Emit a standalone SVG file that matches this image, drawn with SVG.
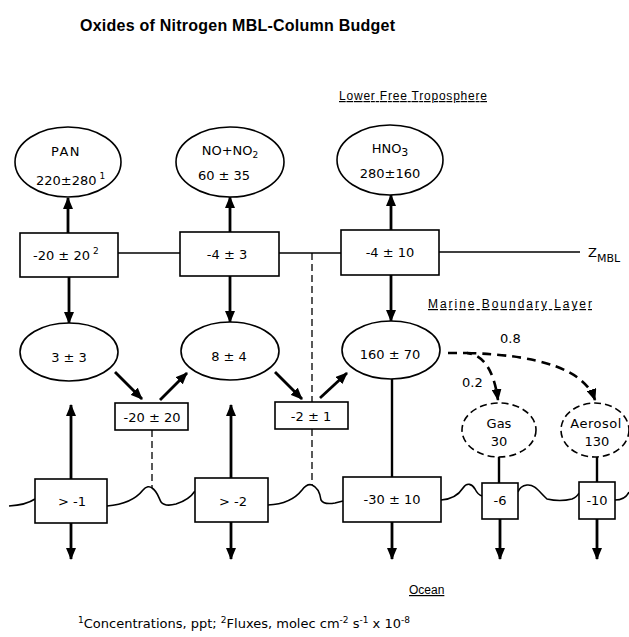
<svg xmlns="http://www.w3.org/2000/svg" width="629" height="637" viewBox="0 0 629 637">
  <style>
    text { font-family: "DejaVu Sans", "Liberation Sans", sans-serif; font-size: 13px; fill: #000; }
    .title { font-family: "Liberation Sans", sans-serif; font-weight: bold; font-size: 16px; }
    .lbl { font-family: "Liberation Sans", sans-serif; font-size: 12px; text-decoration: underline; }
    .sup { font-size: 9px; }
    .node { fill: #fff; stroke: #000; stroke-width: 1.6; }
    .dnode { fill: #fff; stroke: #000; stroke-width: 1.6; stroke-dasharray: 7 4; }
    .arrow { fill: none; stroke: #000; stroke-width: 2.8; marker-end: url(#ah); }
    .plain { fill: none; stroke: #000; stroke-width: 2.4; }
    .thin { fill: none; stroke: #000; stroke-width: 1.6; }
    .dash { fill: none; stroke: #000; stroke-width: 1.3; stroke-dasharray: 7 4; }
    .darrow { fill: none; stroke: #000; stroke-width: 2.6; stroke-dasharray: 9 6; marker-end: url(#ah); }
    .c { text-anchor: middle; }
  </style>
  <defs>
    <marker id="ah" markerUnits="userSpaceOnUse" markerWidth="12" markerHeight="10" refX="11" refY="5" orient="auto">
      <path d="M0,0 L12,5 L0,10 z" fill="#000"/>
    </marker>
  </defs>

  <rect width="629" height="637" fill="#fff"/>

  <!-- headings and layer labels -->
  <text class="title" x="80" y="31" textLength="315" lengthAdjust="spacing">Oxides of Nitrogen MBL-Column Budget</text>
  <text class="lbl" x="339" y="100" textLength="148" lengthAdjust="spacing">Lower Free Troposphere</text>
  <text class="lbl" x="428" y="308" textLength="164" lengthAdjust="spacing">Marine Boundary Layer</text>
  <text class="lbl" x="409" y="594">Ocean</text>
  <text x="588" y="257" font-size="14">Z<tspan dy="5" font-size="11">MBL</tspan></text>

  <!-- connectors -->
  <g id="connectors">
    <!-- MBL top boundary line -->
    <line class="thin" x1="118" y1="253" x2="180" y2="253"/>
    <line class="thin" x1="279" y1="253" x2="341" y2="253"/>
    <line class="thin" x1="439" y1="252" x2="580" y2="252"/>
    <!-- exchange with free troposphere -->
    <line class="arrow" x1="68" y1="233" x2="68" y2="198"/>
    <line class="arrow" x1="230" y1="232" x2="230" y2="197"/>
    <line class="arrow" x1="391" y1="230" x2="391" y2="195"/>
    <line class="arrow" x1="69" y1="277" x2="69" y2="323"/>
    <line class="arrow" x1="230" y1="276" x2="230" y2="322"/>
    <line class="arrow" x1="391" y1="275" x2="391" y2="321"/>
    <!-- chemical conversion -->
    <line class="arrow" x1="115" y1="372" x2="142" y2="399"/>
    <line class="arrow" x1="160" y1="400" x2="187" y2="373"/>
    <line class="arrow" x1="275" y1="372" x2="302" y2="399"/>
    <line class="arrow" x1="320" y1="398" x2="347" y2="373"/>
    <!-- surface sources -->
    <line class="arrow" x1="71" y1="479" x2="71" y2="405"/>
    <line class="arrow" x1="231" y1="478" x2="231" y2="405"/>
    <line class="plain" x1="392" y1="379" x2="392" y2="477"/>
    <line class="plain" x1="499" y1="457" x2="499" y2="483"/>
    <line class="plain" x1="597" y1="457" x2="597" y2="482"/>
    <!-- deposition to ocean -->
    <line class="arrow" x1="71" y1="523" x2="71" y2="559"/>
    <line class="arrow" x1="231" y1="522" x2="231" y2="559"/>
    <line class="arrow" x1="392" y1="522" x2="392" y2="559"/>
    <line class="arrow" x1="500" y1="519" x2="500" y2="559"/>
    <line class="arrow" x1="597" y1="519" x2="597" y2="559"/>
    <!-- dashed column ties -->
    <line class="dash" x1="312" y1="253" x2="312" y2="485"/>
    <line class="dash" x1="152" y1="430" x2="152" y2="488"/>
    <!-- partitioning of HNO3 -->
    <path class="darrow" d="M448,353 L467,353 Q492,356 498,400"/>
    <path class="darrow" d="M467,353 Q580,356 595,400"/>
    <!-- sea surface -->
    <path class="thin" d="M9,506 Q26,505 35,499"/>
    <path class="thin" d="M107,506 Q132,504 143,490 C146,486 150,486 152,488 C157,491 158,496 161,502 Q165,507 176,504 Q189,500 195,491"/>
    <path class="thin" d="M268,505 Q291,504 302,490 C305,486 309,484 312,485 C317,487 320,493 321,500 Q324,505 335,503 L343,501"/>
    <path class="thin" d="M441,500 Q456,499 463,488 C467,482 472,484 475,489 Q478,495 482,496"/>
    <path class="thin" d="M518,492 Q520,486 527,485 C535,484 540,493 547,499 Q560,502 572,499 Q577,497 579,493"/>
    <path class="thin" d="M615,500 Q625,500 629,492"/>
  </g>

  <!-- free troposphere reservoirs -->
  <g id="pan-ft">
    <ellipse class="node" cx="68" cy="162" rx="53" ry="35"/>
    <text class="c" x="66" y="156" letter-spacing="1.5">PAN</text>
    <text x="36" y="185">220±280<tspan class="sup" dx="3" dy="-6">1</tspan></text>
  </g>
  <g id="nox-ft">
    <ellipse class="node" cx="230" cy="162" rx="54" ry="35"/>
    <text class="c" x="230" y="155">NO+NO<tspan class="sup" font-size="11" dy="3">2</tspan></text>
    <text class="c" x="224" y="180">60 ± 35</text>
  </g>
  <g id="hno3-ft">
    <ellipse class="node" cx="390" cy="160" rx="53" ry="35"/>
    <text class="c" x="390" y="153">HNO<tspan font-size="11" dy="3">3</tspan></text>
    <text class="c" x="390" y="178">280±160</text>
  </g>

  <!-- entrainment fluxes at z_MBL -->
  <g id="pan-flux">
    <rect class="node" x="20" y="233" width="98" height="44"/>
    <text x="33" y="260">-20 ± 20<tspan class="sup" font-size="10" dx="3" dy="-6">2</tspan></text>
  </g>
  <g id="nox-flux">
    <rect class="node" x="180" y="232" width="99" height="44"/>
    <text class="c" x="227" y="259">-4 ± 3</text>
  </g>
  <g id="hno3-flux">
    <rect class="node" x="341" y="230" width="98" height="45"/>
    <text class="c" x="390" y="257">-4 ± 10</text>
  </g>

  <!-- boundary-layer reservoirs -->
  <g id="pan-mbl">
    <ellipse class="node" cx="69" cy="352" rx="49" ry="29"/>
    <text class="c" x="69" y="362">3 ± 3</text>
  </g>
  <g id="nox-mbl">
    <ellipse class="node" cx="230" cy="351" rx="49" ry="29"/>
    <text class="c" x="229" y="361">8 ± 4</text>
  </g>
  <g id="hno3-mbl">
    <ellipse class="node" cx="391" cy="350" rx="49" ry="29"/>
    <text class="c" x="390" y="359">160 ± 70</text>
  </g>

  <!-- conversion fluxes -->
  <g id="pan-decomp">
    <rect class="node" x="115" y="403" width="73" height="27"/>
    <text class="c" x="152" y="422">-20 ± 20</text>
  </g>
  <g id="nox-oxid">
    <rect class="node" x="275" y="402" width="73" height="27"/>
    <text class="c" x="311" y="421">-2 ± 1</text>
  </g>

  <!-- HNO3 partitioning -->
  <text x="462" y="387">0.2</text>
  <text x="500" y="343">0.8</text>
  <g id="gas">
    <ellipse class="dnode" cx="499" cy="430" rx="37" ry="27"/>
    <text class="c" x="499" y="428">Gas</text>
    <text class="c" x="499" y="446">30</text>
  </g>
  <g id="aerosol">
    <ellipse class="dnode" cx="595" cy="430" rx="34" ry="27"/>
    <text class="c" x="596" y="428" letter-spacing="0.5">Aerosol</text>
    <text class="c" x="597" y="446">130</text>
  </g>

  <!-- surface exchange fluxes -->
  <g id="pan-surf">
    <rect class="node" x="35" y="479" width="72" height="44"/>
    <text class="c" x="72" y="506">&gt; -1</text>
  </g>
  <g id="nox-surf">
    <rect class="node" x="195" y="478" width="73" height="44"/>
    <text class="c" x="233" y="506">&gt; -2</text>
  </g>
  <g id="hno3-surf">
    <rect class="node" x="343" y="477" width="98" height="45"/>
    <text class="c" x="392" y="504">-30 ± 10</text>
  </g>
  <g id="gas-surf">
    <rect class="node" x="482" y="483" width="36" height="36"/>
    <text class="c" x="500" y="505">-6</text>
  </g>
  <g id="aerosol-surf">
    <rect class="node" x="579" y="482" width="36" height="37"/>
    <text class="c" x="597" y="505">-10</text>
  </g>

  <!-- units footnote -->
  <text x="78" y="628" font-family="Liberation Sans, sans-serif" font-size="12"><tspan class="sup" dy="-5">1</tspan><tspan dy="5">Concentrations, ppt; </tspan><tspan class="sup" dy="-5">2</tspan><tspan dy="5">Fluxes, molec cm</tspan><tspan class="sup" dy="-5">-2</tspan><tspan dy="5"> s</tspan><tspan class="sup" dy="-5">-1</tspan><tspan dy="5"> x 10</tspan><tspan class="sup" dy="-5">-8</tspan></text>
</svg>
